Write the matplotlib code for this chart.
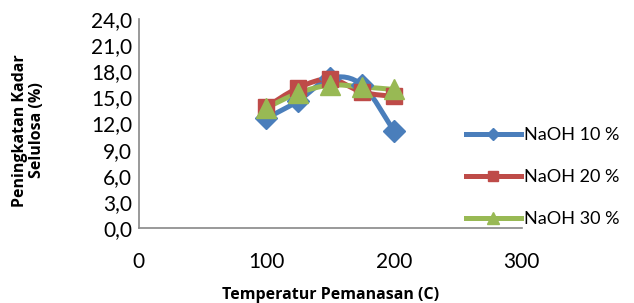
import matplotlib
matplotlib.use("Agg")
import matplotlib.pyplot as plt
from matplotlib.path import Path
from matplotlib.patches import PathPatch
from matplotlib.lines import Line2D

plt.rcParams['font.family'] = ['Lato', 'DejaVu Sans']

suhu = [100, 125, 150, 175, 200]
naoh10 = [12.6, 14.6, 17.2, 16.4, 11.1]
naoh20 = [13.9, 16.1, 17.1, 15.6, 15.1]
naoh30 = [13.8, 15.5, 16.4, 16.2, 15.9]
labels = ['NaOH 10 %', 'NaOH 20 %', 'NaOH 30 %']
colors = ['#4A7EBB', '#BE4B48', '#98B954']
markers = ['D', 's', '^']
msizes = [11, 12, 14]
yticks = [0, 3, 6, 9, 12, 15, 18, 21, 24]


def smooth_path(x, y):
    # excel-like smoothed line (bezier through points)
    pts = list(zip(x, y))
    verts = [pts[0]]
    codes = [Path.MOVETO]
    n = len(pts)
    for i in range(n - 1):
        p0 = pts[i - 1] if i > 0 else pts[i]
        p1 = pts[i]
        p2 = pts[i + 1]
        p3 = pts[i + 2] if i + 2 < n else pts[i + 1]
        c1 = (p1[0] + (p2[0] - p0[0]) / 6, p1[1] + (p2[1] - p0[1]) / 6)
        c2 = (p2[0] - (p3[0] - p1[0]) / 6, p2[1] - (p3[1] - p1[1]) / 6)
        verts += [c1, c2, p2]
        codes += [Path.CURVE4] * 3
    return Path(verts, codes)


fig = plt.figure(figsize=(6.34, 3.03), dpi=100)
ax = fig.add_axes([0.219, 0.2475, 0.604, 0.69])

handles = []
for ys, c, m, ms, lab in zip([naoh10, naoh20, naoh30], colors, markers, msizes, labels):
    ax.add_patch(PathPatch(smooth_path(suhu, ys), facecolor='none', edgecolor=c,
                           lw=3.6, capstyle='round', joinstyle='round'))
    ax.plot(suhu, ys, linestyle='none', marker=m, markersize=ms, color=c,
            markeredgecolor=c)
    handles.append(Line2D([], [], color=c, lw=3.6, marker=m, markersize=ms * 0.6,
                          label=lab))

ax.set_xlim(0, 300)
ax.set_ylim(0, 24)
ax.set_xticks([0, 100, 200, 300])
ax.set_yticks(yticks)
ax.set_yticklabels([('%.1f' % v).replace('.', ',') for v in yticks])
ax.tick_params(length=0, labelsize=15, pad=5)
ax.tick_params(axis='x', pad=17)
for s in ['top', 'right']:
    ax.spines[s].set_visible(False)
for s in ['left', 'bottom']:
    ax.spines[s].set_color('#888888')
    ax.spines[s].set_linewidth(1.2)

ax.set_xlabel('Temperatur Pemanasan (C)', fontsize=11.5, fontweight='bold',
              family='Open Sans', labelpad=11)
fig.text(0.045, 0.57, 'Peningkatan Kadar\nSelulosa (%)', rotation=90, fontsize=11.5,
         fontweight='bold', family='Open Sans', ha='center', va='center',
         linespacing=1.05)

fig.legend(handles=handles, loc='center left', bbox_to_anchor=(0.71, 0.415),
           frameon=False, fontsize=13, handlelength=3.0, labelspacing=1.45,
           handletextpad=0.2)

fig.savefig('out.png', dpi=100)
